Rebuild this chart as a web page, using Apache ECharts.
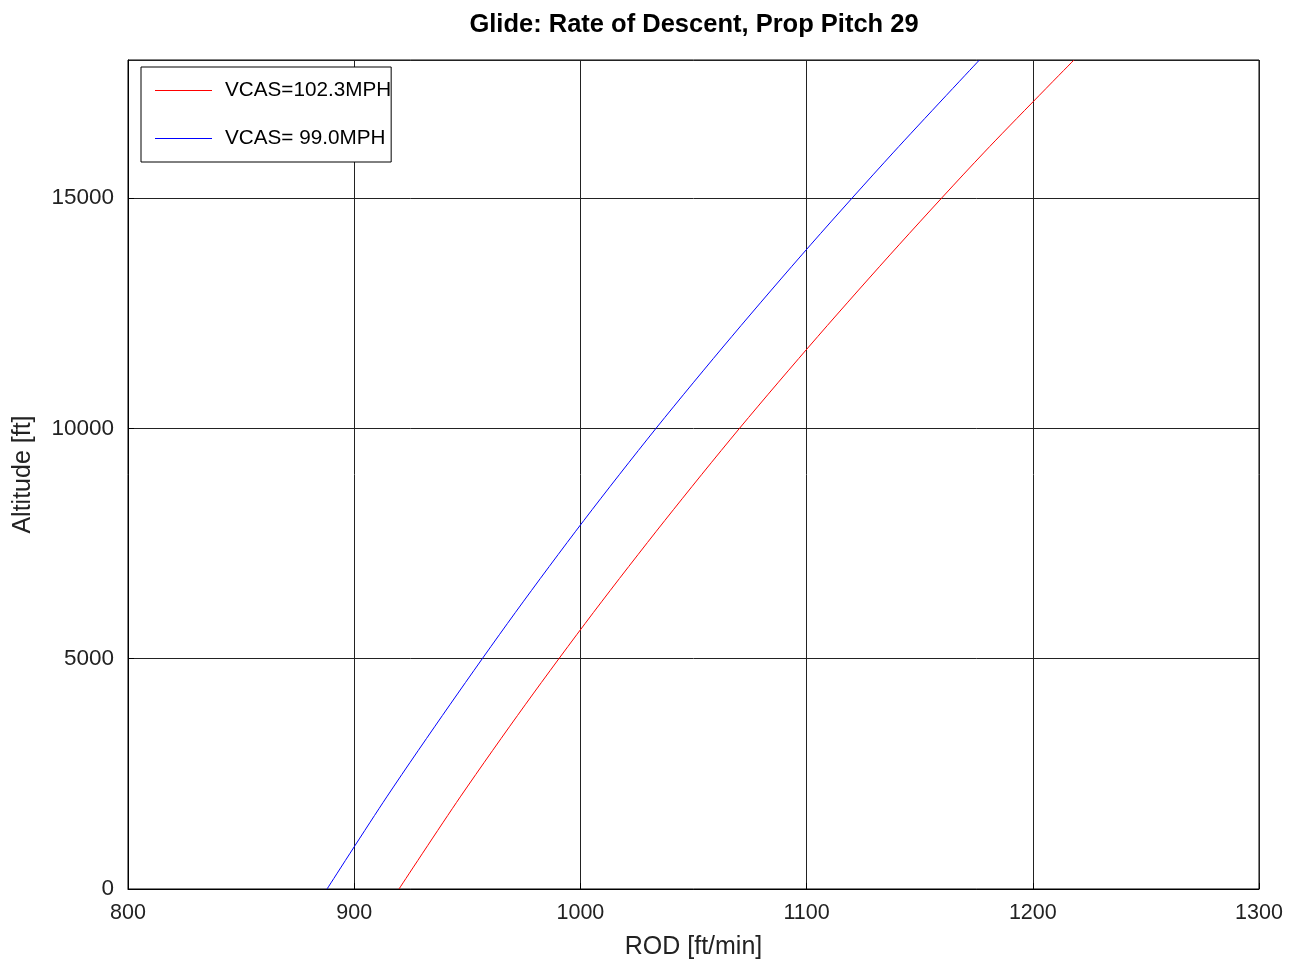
<!DOCTYPE html>
<html>
<head>
<meta charset="utf-8">
<title>Glide: Rate of Descent</title>
<script src="https://cdn.jsdelivr.net/npm/echarts@6/dist/echarts.min.js"></script>
<style>
  html, body { margin: 0; padding: 0; background: #fff; }
  #chart { width: 1302px; height: 967px; }
</style>
</head>
<body>
<div id="chart"></div>
<script>
// altitude in ft, shared by both curves
const altitude = [0, 2000, 4000, 6000, 8000, 10000, 12000, 14000, 16000, 18000]
// rate of descent in ft/min
const rodFast = [919.8, 946.9, 975.6, 1005.7, 1037.3, 1070.3, 1105.0, 1141.1, 1178.6, 1218.2]
const rodSlow = [888.0, 914.4, 942.3, 971.2, 1001.5, 1033.4, 1067.0, 1102.0, 1138.5, 1176.4]
const seriesNames = ['VCAS=102.3MPH', 'VCAS= 99.0MPH']
const xTicks = [800, 900, 1000, 1100, 1200, 1300]
const yTicks = [0, 5000, 10000, 15000]

const font = 'Liberation Sans, Arial, Helvetica, sans-serif'

function pairs (xs, ys) {
  return xs.map((x, i) => [x, ys[i]])
}

const chart = echarts.init(document.getElementById('chart'))
chart.setOption({
  animation: false,
  backgroundColor: '#fff',
  textStyle: { fontFamily: font },
  title: {
    text: 'Glide: Rate of Descent, Prop Pitch 29',
    left: 689,
    textAlign: 'center',
    top: 7,
    textStyle: { fontFamily: font, fontSize: 25.5, fontWeight: 'bold', color: '#000' }
  },
  grid: {
    left: 128,
    right: 43,
    top: 60,
    bottom: 78,
    show: true,
    borderColor: '#000',
    borderWidth: 1
  },
  legend: {
    orient: 'vertical',
    left: 141,
    top: 67,
    padding: [13, 0, 13, 14],
    itemGap: 27,
    itemWidth: 57,
    itemHeight: 1,
    icon: 'rect',
    borderColor: '#000',
    borderWidth: 1,
    borderRadius: 0,
    backgroundColor: '#fff',
    textStyle: { fontFamily: font, fontSize: 20.7, color: '#000', padding: [0, 0, 0, 8] },
    data: seriesNames
  },
  xAxis: {
    type: 'value',
    min: xTicks[0],
    max: xTicks[xTicks.length - 1],
    interval: 100,
    name: 'ROD [ft/min]',
    nameLocation: 'middle',
    nameGap: 46,
    nameTextStyle: { fontFamily: font, fontSize: 25, color: '#222' },
    axisLine: { lineStyle: { color: '#000', width: 1 } },
    axisTick: { inside: true, length: 6, lineStyle: { color: '#000' } },
    axisLabel: { fontFamily: font, fontSize: 21.5, color: '#222', margin: 13, formatter: v => String(v) },
    splitLine: { show: true, lineStyle: { color: '#222', width: 1 } }
  },
  yAxis: {
    type: 'value',
    min: yTicks[0],
    max: 18000,
    interval: 5000,
    name: 'Altitude [ft]',
    nameLocation: 'middle',
    nameGap: 92,
    nameRotate: 90,
    nameTextStyle: { fontFamily: font, fontSize: 25, color: '#222' },
    axisLine: { show: true, lineStyle: { color: '#000', width: 1 } },
    axisTick: { inside: true, length: 6, lineStyle: { color: '#000' } },
    axisLabel: { fontFamily: font, fontSize: 22.5, color: '#222', margin: 14, showMaxLabel: false, formatter: v => String(v) },
    splitLine: { show: true, lineStyle: { color: '#222', width: 1 } }
  },
  series: [
    {
      name: seriesNames[0],
      type: 'line',
      data: pairs(rodFast, altitude),
      showSymbol: false,
      smooth: 0.3,
      color: '#ff0000',
      lineStyle: { color: '#ff0000', width: 1 }
    },
    {
      name: seriesNames[1],
      type: 'line',
      data: pairs(rodSlow, altitude),
      showSymbol: false,
      smooth: 0.3,
      color: '#0000ff',
      lineStyle: { color: '#0000ff', width: 1 }
    }
  ]
})
</script>
</body>
</html>
